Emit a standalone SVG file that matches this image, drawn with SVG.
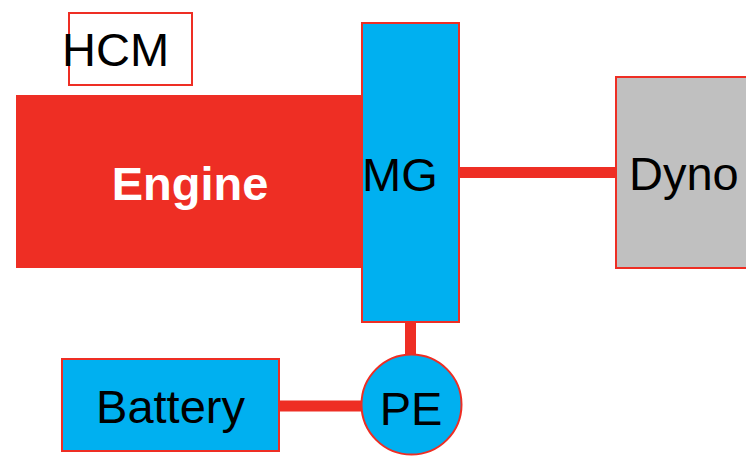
<svg xmlns="http://www.w3.org/2000/svg" width="746" height="456" viewBox="0 0 746 456">
<style>
.box{stroke:#EE2E24;stroke-width:2}
.lbl{font-family:"Liberation Sans",Arial,sans-serif;font-size:47px;fill:#000}
.conn{stroke:#EE2E24;stroke-width:11;fill:none}
</style>
<rect width="746" height="456" fill="#fff"/>
<g id="connectors">
<line class="conn" x1="459" y1="172.5" x2="616" y2="172.5"/>
<line class="conn" x1="410.5" y1="322" x2="410.5" y2="356"/>
<line class="conn" x1="279" y1="406" x2="362" y2="406"/>
</g>
<g id="hcm">
<rect class="box" x="69" y="13" width="123" height="72" fill="#fff"/>
<text class="lbl" x="62" y="66">HCM</text>
</g>
<g id="engine">
<rect x="16" y="95" width="347" height="173" fill="#EE2E24"/>
<text x="190" y="200" text-anchor="middle" font-family="Liberation Sans,Arial,sans-serif" font-size="47" font-weight="bold" fill="#fff">Engine</text>
</g>
<g id="mg">
<rect class="box" x="362" y="23" width="97" height="299" fill="#00B0F0"/>
<text class="lbl" x="362" y="191">MG</text>
</g>
<g id="dyno">
<rect class="box" x="616" y="77" width="140" height="191" fill="#C0C0C0"/>
<text class="lbl" x="629" y="190">Dyno</text>
</g>
<g id="pe">
<circle class="box" cx="411.5" cy="404.5" r="50" fill="#00B0F0"/>
<text class="lbl" x="411" y="425" text-anchor="middle">PE</text>
</g>
<g id="battery">
<rect class="box" x="62" y="359" width="217" height="92" fill="#00B0F0"/>
<text class="lbl" x="170.5" y="423" text-anchor="middle">Battery</text>
</g>
</svg>
